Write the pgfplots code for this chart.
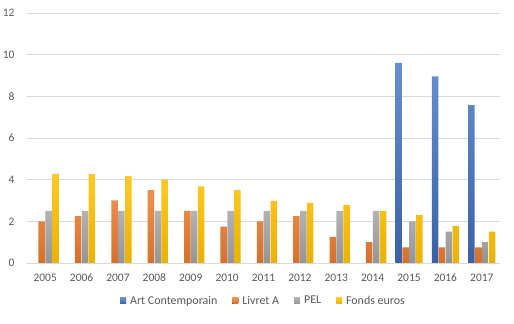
\documentclass[border=0pt]{standalone}
\usepackage{pgfplots}
\pgfplotsset{compat=1.18}
\usepackage{fontspec}
\setmainfont{Carlito}
\definecolor{cblue}{HTML}{4472C4}
\definecolor{corange}{HTML}{ED7D31}
\definecolor{cgray}{HTML}{A5A5A5}
\definecolor{cgold}{HTML}{FFC000}
\definecolor{ctext}{HTML}{595959}
\definecolor{cgrid}{HTML}{D9D9D9}
\begin{document}
\begin{tikzpicture}
\begin{axis}[
  name=ax,
  scale only axis,
  width=473bp, height=250bp,
  ybar=0.4bp, bar width=6.5bp,
  xmin=-0.5, xmax=12.5,
  ymin=0, ymax=12,
  ytick={0,2,...,12},
  xtick={0,...,12},
  xticklabels={2005,2006,2007,2008,2009,2010,2011,2012,2013,2014,2015,2016,2017},
  extra x ticks={-0.5,0.5,...,12.5},
  extra x tick labels={},
  extra x tick style={major tick length=4bp, tick style={draw=cgrid}, tick align=outside, grid=none},
  major x tick style={draw=none},
  axis x line*=bottom,
  axis y line*=left,
  y axis line style={draw=none},
  x axis line style={draw=cgrid, line width=0.7bp, -},
  ymajorgrids,
  grid style={draw=cgrid, line width=0.7bp},
  ytick style={draw=none},
  y tick label style={font=\fontsize{11.5}{13}\selectfont, text=ctext, xshift=-9bp},
  x tick label style={font=\fontsize{11.5}{13}\selectfont, text=ctext, text height=8bp, text depth=0bp, anchor=north, yshift=-3bp},
  /pgf/number format/assume math mode=true,
  enlarge y limits=false,
  legend style={at={(0.5,-0.115)}, anchor=north, draw=none, legend columns=-1,
    font=\fontsize{12}{14}\selectfont, text=ctext,
    /tikz/every even column/.append style={column sep=13bp},
    /tikz/every odd column/.append style={column sep=2bp}},
  legend image code/.code={\fill[#1] (0bp,-3bp) rectangle (6bp,3bp);},
]
\addplot[draw=none, top color=cblue!80!white, bottom color=cblue!85!black] coordinates {(10,9.6) (11,8.96) (12,7.58)};
\addplot[draw=none, top color=corange!85!white, bottom color=corange!90!black] coordinates {
(0,2.0) (1,2.25) (2,3.0) (3,3.5) (4,2.5) (5,1.75) (6,2.0) (7,2.25) (8,1.25) (9,1.0) (10,0.75) (11,0.75) (12,0.75)};
\addplot[draw=none, top color=cgray!85!white, bottom color=cgray!90!black] coordinates {
(0,2.5) (1,2.5) (2,2.5) (3,2.5) (4,2.5) (5,2.5) (6,2.5) (7,2.5) (8,2.5) (9,2.5) (10,2.0) (11,1.5) (12,1.0)};
\addplot[draw=none, top color=cgold!85!white, bottom color=cgold!92!black] coordinates {
(0,4.28) (1,4.28) (2,4.18) (3,4.0) (4,3.68) (5,3.5) (6,2.98) (7,2.88) (8,2.79) (9,2.5) (10,2.3) (11,1.78) (12,1.5)};
\legend{Art Contemporain, Livret A, PEL, Fonds euros}
\end{axis}
\pgfresetboundingbox
\path[use as bounding box] ([shift={(-27bp,-61bp)}]ax.south west) rectangle ([shift={(14bp,13bp)}]ax.north east);
\end{tikzpicture}
\end{document}
